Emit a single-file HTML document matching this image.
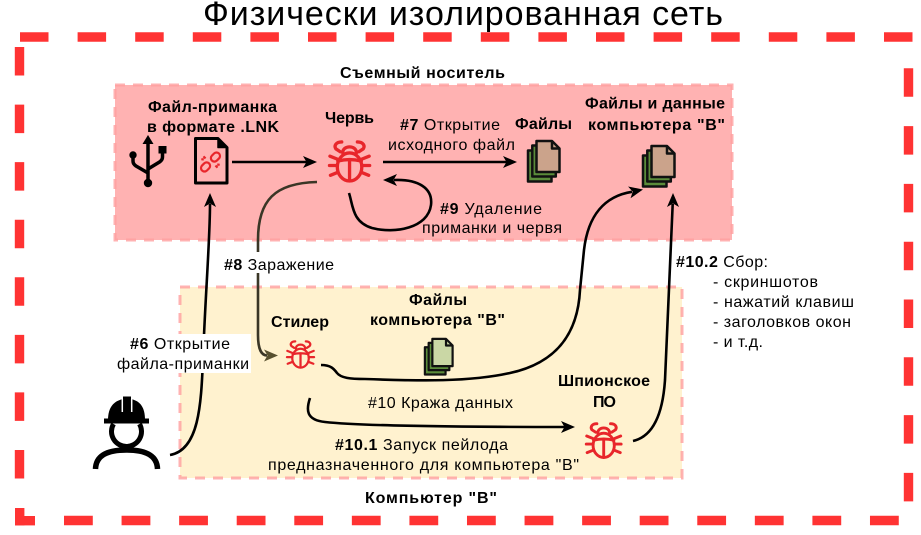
<!DOCTYPE html>
<html><head><meta charset="utf-8"><style>
html,body{margin:0;padding:0;background:#fff;}
svg{display:block;}
text{font-family:"Liberation Sans","Noto Sans CJK SC",sans-serif;fill:#000;}
.b{font-weight:bold;font-size:16px;}
.r{font-size:16px;}
</style></head><body>
<svg width="921" height="535" viewBox="0 0 921 535" xmlns="http://www.w3.org/2000/svg">
<defs>
 <g id="bug" fill="none" stroke="#E8262B" stroke-width="3.4" stroke-linecap="round" stroke-linejoin="round">
  <path d="M14,2 C8,2 6,6 8,9 L12.5,12"/>
  <path d="M30,2 C36,2 38,6 36,9 L31.5,12"/>
  <path d="M15,13 C15,5 29,5 29,13"/>
  <ellipse cx="22" cy="27.5" rx="12.5" ry="14.3"/>
  <path d="M10,21.5 Q22,18.5 34,21.5"/>
  <path d="M22,21 L22,41.5"/>
  <path d="M2,16.5 L9.5,19.5"/><path d="M1.5,26 L9.5,26"/><path d="M2.5,36 L10,33"/>
  <path d="M42,16.5 L34.5,19.5"/><path d="M42.5,26 L34.5,26"/><path d="M41.5,36 L34,33"/>
 </g>
 <g id="files" stroke="#111" stroke-width="2.5" stroke-linejoin="round">
  <rect x="1" y="10.5" width="23.5" height="31" fill="#5B8C3A"/>
  <rect x="5.3" y="5.5" width="23.5" height="31" fill="#5B8C3A"/>
  <path d="M9.5,1 L25,1 L32.5,8.5 L32.5,32 L9.5,32 Z" fill="#CBA38B"/>
  <path d="M25,1 L25,8.5 L32.5,8.5" fill="none"/>
 </g>
 <g id="files2" stroke="#111" stroke-width="2.5" stroke-linejoin="round">
  <rect x="1" y="10.5" width="23.5" height="31" fill="#5B8C3A"/>
  <rect x="5.3" y="5.5" width="23.5" height="31" fill="#5B8C3A"/>
  <path d="M9.5,1 L25,1 L32.5,8.5 L32.5,32 L9.5,32 Z" fill="#CAD7A5"/>
  <path d="M25,1 L25,8.5 L32.5,8.5" fill="none"/>
 </g>
 <path id="ah" d="M0,0 L-14,-6 L-10.5,0 L-14,6 Z"/>
</defs>

<rect width="921" height="535" fill="#fff"/>

<!-- title -->
<text x="463" y="25" font-size="34" text-anchor="middle" textLength="520" lengthAdjust="spacing">Физически изолированная сеть</text>

<!-- outer red dashed border -->
<g stroke="#FF3333" stroke-width="9.4" fill="none">
 <line x1="20" y1="37" x2="913" y2="37" stroke-dasharray="28.5 29.1"/>
 <line x1="908.5" y1="68.3" x2="908.5" y2="502" stroke-dasharray="28.5 29.3"/>
 <line x1="64" y1="520.5" x2="899" y2="520.5" stroke-dasharray="28.8 28.77"/>
 <line x1="19.5" y1="47" x2="19.5" y2="479" stroke-dasharray="28.5 29.07"/>
</g>
<rect x="15" y="516" width="20" height="9.4" fill="#FF3333"/>
<rect x="15" y="508" width="9.4" height="17.4" fill="#FF3333"/>

<!-- boxes -->
<rect x="115" y="85" width="617" height="155" fill="#FFB2B2" stroke="#FF9F9F" stroke-opacity="0.8" stroke-width="3" stroke-dasharray="10 8"/>
<rect x="180" y="287" width="502" height="191" fill="#FFF2CF" stroke="#FF9F9F" stroke-opacity="0.8" stroke-width="3" stroke-dasharray="10 8"/>

<!-- connectors -->
<g fill="none" stroke="#000" stroke-width="2.6">
 <path d="M232,162 L307,162"/>
 <path d="M383,162 L507,162"/>
 <path d="M170,455 C199,450 201,405 203,360 C205,300 210,240 210,204"/>
 <path d="M349,193 C353,205 352,222 372,228 C395,234 428,228 431,205 C433,188 418,179 394,180"/>
 <path d="M321,365 C331,365 334,369 337,373 C341,378 350,379 365,379 C420,381 470,382 510,373 C560,362 578,330 580,290 L584,250 C588,215 605,196 632,191.8"/>
 <path d="M633,441 C655,436 663,410 665,380 L672.7,204"/>
 <path d="M310,398 C306,410 306,420 325,422 C360,426 450,427 565,427"/>
</g>
<path d="M317,182 C275,183 258,200 258,240 L258,335 C258,350 262,355.5 267,355.5" fill="none" stroke="#3a3626" stroke-width="2.6"/>

<!-- arrowheads -->
<use href="#ah" transform="translate(317,162)"/>
<use href="#ah" transform="translate(517,162)"/>
<use href="#ah" transform="translate(210,193) rotate(-90)"/>
<use href="#ah" transform="translate(278,355.5)" fill="#57502F"/>
<use href="#ah" transform="translate(383,180) rotate(180)"/>
<use href="#ah" transform="translate(643,189.5) rotate(-12)"/>
<use href="#ah" transform="translate(673,193) rotate(-90)"/>
<use href="#ah" transform="translate(575,427)"/>

<!-- white label backgrounds -->
<rect x="222" y="252" width="113" height="21" fill="#fff"/>
<rect x="113" y="334" width="138" height="39" fill="#fff"/>

<!-- USB icon -->
<g stroke="#000" stroke-width="3.5" fill="none" stroke-linejoin="round">
 <path d="M148,142 L148,181"/>
 <path d="M133,156 L133,161 Q133,164 136,166 L148,173"/>
 <path d="M162.5,150 L162.5,157 Q162.5,160 159.5,162 L148,169"/>
</g>
<polygon points="148,135 142.5,144 153.5,144" fill="#000"/>
<circle cx="148" cy="183" r="4.2" fill="#000"/>
<circle cx="133" cy="155" r="3.7" fill="#000"/>
<rect x="158.5" y="146" width="8" height="7.5" fill="#000"/>

<!-- file icon -->
<path d="M195.5,138.5 L218,138.5 L227,147.5 L227,183 L195.5,183 Z" fill="#FFB2B2" stroke="#000" stroke-width="3" stroke-linejoin="round"/>
<path d="M218,138.5 L218,147.5 L227,147.5 Z" fill="#000" stroke="#000" stroke-width="1.5" stroke-linejoin="round"/>
<g fill="none" stroke="#E8262B" stroke-width="2.2" transform="rotate(-45 210.5 162)">
 <rect x="198.5" y="158.5" width="10" height="7" rx="3.5"/>
 <rect x="212.5" y="158.5" width="10" height="7" rx="3.5"/>
 <path d="M209.5,156 L209.5,153 M211.5,168 L211.5,171 M207.5,155.5 L206,153.5 M213.5,168.5 L215,170.5"/>
</g>

<!-- bugs -->
<use href="#bug" transform="translate(328,140) scale(0.98)"/>
<use href="#bug" transform="translate(286,340) scale(0.66)"/>
<use href="#bug" transform="translate(585,422) scale(0.85)"/>

<!-- files icons -->
<use href="#files" transform="translate(527,140)"/>
<use href="#files" transform="translate(642,145)"/>
<use href="#files2" transform="translate(424,338) scale(0.88)"/>

<!-- worker -->
<g fill="#000">
 <path d="M108,420 C108,407 114,401 123,399 L131,399 C140,401 145,407 145,420 Z"/>
 <rect x="123" y="396.5" width="8" height="10"/>
 <rect x="104" y="418.5" width="45" height="5"/>
</g>
<path d="M122.3,399 L122.3,412 M131.7,399 L131.7,412" stroke="#fff" stroke-width="1.5"/>
<path d="M113.5,424 A15,15 0 1 0 139.5,424" fill="none" stroke="#000" stroke-width="5"/>
<path d="M95.5,469 C96,455 108,450 126.5,450 C145,450 157,455 157.5,469" fill="none" stroke="#000" stroke-width="5.5"/>

<!-- bold labels -->
<text class="b" x="422.5" y="78" text-anchor="middle" textLength="165" lengthAdjust="spacing">Съемный носитель</text>
<text class="b" x="212.5" y="112" text-anchor="middle" textLength="129" lengthAdjust="spacing">Файл-приманка</text>
<text class="b" x="213" y="132" text-anchor="middle" textLength="132" lengthAdjust="spacing">в формате .LNK</text>
<text class="b" x="349.5" y="123" text-anchor="middle" textLength="49" lengthAdjust="spacing">Червь</text>
<text class="b" x="543.5" y="129" text-anchor="middle" textLength="57" lengthAdjust="spacing">Файлы</text>
<text class="b" x="655" y="108.5" text-anchor="middle" textLength="140" lengthAdjust="spacing">Файлы и данные</text>
<text class="b" x="656.5" y="130" text-anchor="middle" textLength="137" lengthAdjust="spacing">компьютера "B"</text>
<text class="b" x="300" y="327" text-anchor="middle" textLength="58" lengthAdjust="spacing">Стилер</text>
<text class="b" x="438" y="305" text-anchor="middle" textLength="58" lengthAdjust="spacing">Файлы</text>
<text class="b" x="437.5" y="325" text-anchor="middle" textLength="135" lengthAdjust="spacing">компьютера "B"</text>
<text class="b" x="604" y="386" text-anchor="middle" textLength="92" lengthAdjust="spacing">Шпионское</text>
<text class="b" x="604.5" y="407" text-anchor="middle" textLength="23" lengthAdjust="spacing">ПО</text>
<text class="b" x="431" y="503" text-anchor="middle" textLength="132" lengthAdjust="spacing">Компьютер "B"</text>

<!-- regular labels -->
<text class="r" x="450" y="130" text-anchor="middle" textLength="100" lengthAdjust="spacing"><tspan font-weight="bold">#7</tspan> Открытие</text>
<text class="r" x="451.5" y="150" text-anchor="middle" textLength="127" lengthAdjust="spacing">исходного файл</text>
<text class="r" x="491" y="214" text-anchor="middle" textLength="102" lengthAdjust="spacing"><tspan font-weight="bold">#9</tspan> Удаление</text>
<text class="r" x="492" y="233" text-anchor="middle" textLength="140" lengthAdjust="spacing">приманки и червя</text>
<text class="r" x="279" y="270" text-anchor="middle" textLength="110" lengthAdjust="spacing"><tspan font-weight="bold">#8</tspan> Заражение</text>
<text class="r" x="180" y="349" text-anchor="middle" textLength="100" lengthAdjust="spacing"><tspan font-weight="bold">#6</tspan> Открытие</text>
<text class="r" x="183" y="369" text-anchor="middle" textLength="132" lengthAdjust="spacing">файла-приманки</text>
<text class="r" x="440.5" y="408" text-anchor="middle" textLength="145" lengthAdjust="spacing">#10 Кража данных</text>
<text class="r" x="421.5" y="450" text-anchor="middle" textLength="173" lengthAdjust="spacing"><tspan font-weight="bold">#10.1</tspan> Запуск пейлода</text>
<text class="r" x="423.5" y="470" text-anchor="middle" textLength="311" lengthAdjust="spacing">предназначенного для компьютера "B"</text>

<text class="r" x="676" y="267" textLength="92" lengthAdjust="spacing"><tspan font-weight="bold">#10.2</tspan> Сбор:</text>
<text class="r" x="713" y="287" textLength="105" lengthAdjust="spacing">- скриншотов</text>
<text class="r" x="713" y="307" textLength="141" lengthAdjust="spacing">- нажатий клавиш</text>
<text class="r" x="713" y="327" textLength="138" lengthAdjust="spacing">- заголовков окон</text>
<text class="r" x="713" y="347" textLength="50" lengthAdjust="spacing">- и т.д.</text>
</svg>
</body></html>
